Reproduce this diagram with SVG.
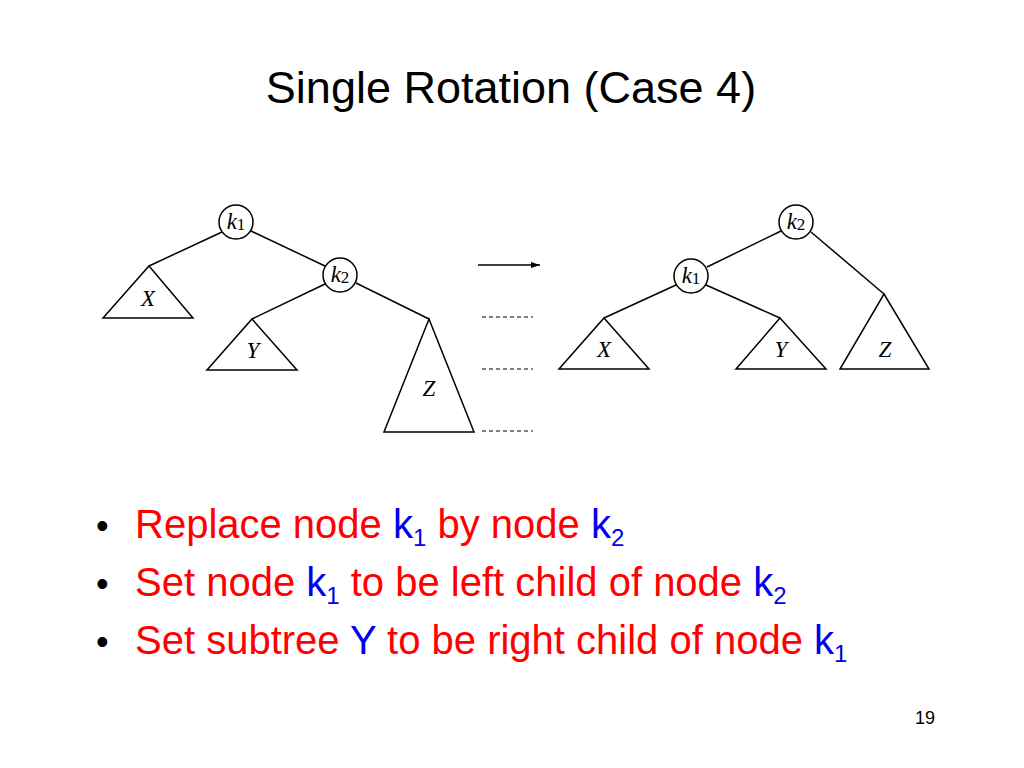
<svg xmlns="http://www.w3.org/2000/svg" width="1024" height="768" viewBox="0 0 1024 768">
<style>
.l{stroke:#000;stroke-width:1.5;fill:none}
.c{stroke:#000;stroke-width:1.5;fill:#fff}
.t{font-family:"Liberation Serif",serif;font-style:italic;font-size:23px;text-anchor:middle}
.s{font-size:17px;font-style:normal}
.b{font-family:"Liberation Sans",sans-serif;font-size:40px;fill:#ff0000}
.k{fill:#0000ee}
.d{stroke:#000;stroke-width:1.2;stroke-dasharray:4,3}
</style>
<defs><marker id="a" markerWidth="10" markerHeight="8" refX="9" refY="4" orient="auto" markerUnits="userSpaceOnUse"><path d="M0,1 L9,4 L0,7z"/></marker></defs>
<rect width="1024" height="768" fill="#fff"/>
<text x="511" y="103" font-family="Liberation Sans,sans-serif" font-size="45" text-anchor="middle">Single Rotation (Case 4)</text>
<g id="connectors">
<line class="l" x1="222" y1="232" x2="149" y2="266"/>
<line class="l" x1="251" y1="231" x2="325" y2="266"/>
<line class="l" x1="325" y1="284" x2="252" y2="319"/>
<line class="l" x1="356" y1="283" x2="429" y2="319"/>
<line class="l" x1="676" y1="285" x2="604" y2="318"/>
<line class="l" x1="706" y1="285" x2="780" y2="318"/>
<line class="l" x1="781" y1="231" x2="707" y2="267"/>
<line class="l" x1="811" y1="232" x2="884" y2="294"/>
<line class="l" x1="478" y1="265" x2="540" y2="265" marker-end="url(#a)"/>
<line class="d" x1="482" y1="317" x2="533" y2="317"/>
<line class="d" x1="482" y1="369" x2="533" y2="369"/>
<line class="d" x1="482" y1="431" x2="533" y2="431"/>
</g>
<g id="L-k1"><circle class="c" cx="236" cy="222" r="17"/><text class="t" x="236" y="229">k<tspan class="s" dy="1">1</tspan></text></g>
<g id="L-k2"><circle class="c" cx="340" cy="275" r="17"/><text class="t" x="340" y="282">k<tspan class="s" dy="1">2</tspan></text></g>
<g id="L-X"><path class="l" d="M149,266 L193,318 L103,318Z"/><text class="t" x="148" y="306">X</text></g>
<g id="L-Y"><path class="l" d="M252,319 L297,370 L207,370Z"/><text class="t" x="253" y="358">Y</text></g>
<g id="L-Z"><path class="l" d="M429,319 L474,432 L384,432Z"/><text class="t" x="429" y="396">Z</text></g>
<g id="R-k2"><circle class="c" cx="796" cy="222" r="17"/><text class="t" x="796" y="229">k<tspan class="s" dy="1">2</tspan></text></g>
<g id="R-k1"><circle class="c" cx="691" cy="276" r="17"/><text class="t" x="691" y="283">k<tspan class="s" dy="1">1</tspan></text></g>
<g id="R-X"><path class="l" d="M604,318 L649,369 L559,369Z"/><text class="t" x="604" y="357">X</text></g>
<g id="R-Y"><path class="l" d="M780,318 L826,369 L736,369Z"/><text class="t" x="781" y="357">Y</text></g>
<g id="R-Z"><path class="l" d="M884,294 L929,369 L840,369Z"/><text class="t" x="885" y="357">Z</text></g>
<g font-family="Liberation Sans,sans-serif" font-size="36">
<text x="96" y="538">•</text>
<text x="96" y="596">•</text>
<text x="96" y="654">•</text>
</g>
<text class="b" x="135" y="538">Replace node <tspan class="k">k</tspan><tspan class="k" font-size="24" dy="8">1</tspan><tspan dy="-8"> by node </tspan><tspan class="k">k</tspan><tspan class="k" font-size="24" dy="8">2</tspan></text>
<text class="b" x="135" y="596">Set node <tspan class="k">k</tspan><tspan class="k" font-size="24" dy="8">1</tspan><tspan dy="-8"> to be left child of node </tspan><tspan class="k">k</tspan><tspan class="k" font-size="24" dy="8">2</tspan></text>
<text class="b" x="135" y="654">Set subtree <tspan class="k">Y</tspan> to be right child of node <tspan class="k">k</tspan><tspan class="k" font-size="24" dy="8">1</tspan></text>
<text x="925" y="724" font-family="Liberation Sans,sans-serif" font-size="18" text-anchor="middle">19</text>
</svg>
